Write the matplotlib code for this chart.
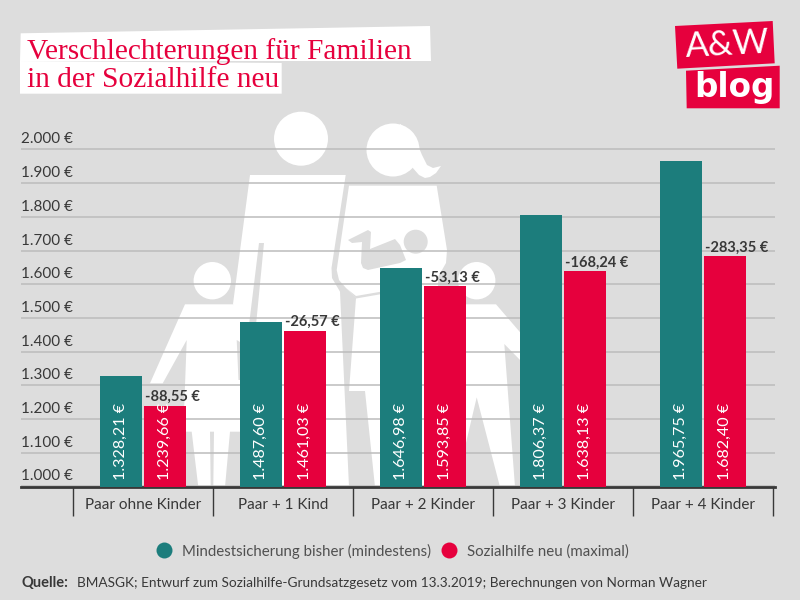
import matplotlib
matplotlib.use('Agg')
import matplotlib.pyplot as plt
from matplotlib.lines import Line2D
from matplotlib.patches import Circle, Polygon

categories = ['Paar ohne Kinder', 'Paar + 1 Kind', 'Paar + 2 Kinder', 'Paar + 3 Kinder', 'Paar + 4 Kinder']
bisher = [1328.21, 1487.60, 1646.98, 1806.37, 1965.75]
neu = [1239.66, 1461.03, 1593.85, 1638.13, 1682.40]
y_ticks = [1000, 1100, 1200, 1300, 1400, 1500, 1600, 1700, 1800, 1900, 2000]
y_labels = ['1.000 €', '1.100 €', '1.200 €', '1.300 €', '1.400 €', '1.500 €',
            '1.600 €', '1.700 €', '1.800 €', '1.900 €', '2.000 €']
series_names = ['Mindestsicherung bisher (mindestens)', 'Sozialhilfe neu (maximal)']

BG = '#dddddd'
TEAL = '#1c7d7c'
RED = '#e6003d'
DARK = '#383838'
FONT = 'Lato'


def euro(value):
    s = f'{value:,.2f}'.replace(',', 'X').replace('.', ',').replace('X', '.')
    return s + ' €'


plt.rcParams['font.family'] = [FONT, 'DejaVu Sans']
fig = plt.figure(figsize=(8, 6), dpi=100, facecolor=BG)

# Hintergrund in Pixelkoordinaten: Familie, Titel, Logo
bg = fig.add_axes([0, 0, 1, 1], zorder=0)
bg.set_xlim(0, 800)
bg.set_ylim(600, 0)
bg.axis('off')

white_shapes = [
    # Vater
    [(250, 175), (345.7, 175), (331.5, 268), (332, 278), (340, 291.7), (349, 487), (245, 487), (240, 340), (233, 304)],
    # Kind links
    [(185, 304.3), (233, 304.3), (250, 320), (250, 431.7), (230, 431.7), (225, 487), (213.3, 487), (214, 431.7),
     (210, 431.7), (210.7, 487), (198.3, 487), (191.7, 431.7), (183.3, 431.7), (186.7, 340), (162.7, 383.3), (150, 383.3)],
    # Mutter
    [(349, 185.7), (436.7, 185.7), (447, 250), (446, 263), (438, 277), (440, 487), (375, 487), (365, 391), (349, 391),
     (356, 298), (346, 288), (339, 280), (336.7, 270)],
    # Pferdeschwanz
    [(400, 124), (410, 131), (417, 143), (422, 155), (427, 165), (433, 168), (441, 166), (436, 173), (430, 177),
     (425, 178), (419, 175), (412, 167), (400, 170)],
    # Kind rechts
    [(440, 304.3), (496, 304.3), (525, 338), (525, 365), (504.3, 344), (515, 487), (500, 487), (476.7, 397.3),
     (462, 460), (460, 487), (440, 487)],
]
gray_shapes = [
    # Luecke am Arm des Vaters
    [(259, 243), (264, 243), (256, 325), (249, 325)],
    [(236.7, 340), (245, 345), (245, 380), (238.5, 380)],
    # Baby
    [(348, 240), (368, 230), (371, 232), (370, 249), (395, 239), (400, 245), (406, 260), (400, 263), (368, 270),
     (363, 268), (361, 263), (362, 242), (352, 243)],
    # Linie zwischen Arm und Rock
    [(346, 288), (356, 296), (382, 291.5), (382, 294), (356, 298.5)],
]
for shape in white_shapes:
    bg.add_patch(Polygon(shape, closed=True, fc='white', ec='none'))
for center, radius in [((301, 138.7), 27), ((393, 150), 26.5), ((212.3, 280.7), 18.7), ((476.7, 280.7), 18.7)]:
    bg.add_patch(Circle(center, radius, fc='white', ec='none'))
for shape in gray_shapes:
    bg.add_patch(Polygon(shape, closed=True, fc=BG, ec='none'))
bg.add_patch(Circle((415.7, 241.7), 12, fc=BG, ec='none'))

# Titel
bg.add_patch(Polygon([(20.7, 33.3), (430, 26), (431, 61), (20, 61)], fc='white', ec='none'))
bg.add_patch(Polygon([(20, 61), (281.7, 63), (281.7, 93.7), (20, 93.7)], fc='white', ec='none'))
bg.text(27, 59, 'Verschlechterungen für Familien', family='Liberation Serif', fontsize=21.2, color=RED, va='baseline')
bg.text(27, 87, 'in der Sozialhilfe neu', family='Liberation Serif', fontsize=21.2, color=RED, va='baseline')

# Logo
bg.add_patch(Polygon([(675, 26), (772.7, 21), (774.7, 63.3), (677.3, 68.7)], fc=RED, ec='none'))
bg.add_patch(Polygon([(686, 70.7), (779.7, 65.7), (779.7, 108.3), (686.7, 108.3)], fc=RED, ec='none'))
bg.text(727, 45, 'A&W', family='Lato', fontsize=25, color='white', ha='center', va='center', rotation=3)
bg.text(734, 87, 'blog', family='DejaVu Sans', fontweight='bold', fontsize=23.5, color='white', ha='center', va='center')

# Diagramm
ax = fig.add_axes([21 / 800, 1 - 486.5 / 600, 754 / 800, 346.5 / 600], zorder=1)
ax.patch.set_visible(False)
ax.set_xlim((21 - 143) / 140, (775 - 143) / 140)
ax.set_ylim(1000, 2028)

bar_w = 42 / 140
offset = 22 / 140
x = list(range(len(categories)))
ax.bar([i - offset for i in x], bisher, bar_w, color=TEAL, zorder=3)
ax.bar([i + offset for i in x], neu, bar_w, color=RED, zorder=3)

for i in x:
    for xpos, val in ((i - offset, bisher[i]), (i + offset, neu[i])):
        ax.annotate(euro(val), xy=(xpos, 1000), xytext=(0, 4.7), textcoords='offset points',
                    rotation=90, ha='center', va='bottom', color='white', fontsize=11.6, zorder=4)
    ax.annotate(euro(round(neu[i] - bisher[i], 2)), xy=(i + offset - bar_w / 2, neu[i]), xytext=(1, 3.5),
                textcoords='offset points', ha='left', va='baseline', color=DARK, fontsize=10.5,
                fontweight='bold', zorder=4)

ax.set_yticks(y_ticks)
ax.grid(axis='y', color='#bcbcbc', lw=1.1, zorder=1)
ax.tick_params(axis='y', length=0, labelleft=False)
for val, label in zip(y_ticks, y_labels):
    ax.annotate(label, xy=(0, val), xycoords=ax.get_yaxis_transform(), xytext=(0, 2.2),
                textcoords='offset points', ha='left', va='bottom', color=DARK, fontsize=11)

ax.set_xticks(x)
ax.set_xticklabels(categories, fontsize=11, color=DARK)
ax.tick_params(axis='x', which='major', length=0, pad=8)
ax.set_xticks([i - 0.5 for i in x] + [x[-1] + 0.5], minor=True)
ax.tick_params(axis='x', which='minor', length=21, width=1, color=DARK)

for side in ('top', 'left', 'right'):
    ax.spines[side].set_visible(False)
ax.spines['bottom'].set_color(DARK)
ax.spines['bottom'].set_linewidth(2)

handles = [Line2D([], [], ls='', marker='o', ms=11.5, mfc=c, mec='none') for c in (TEAL, RED)]
fig.legend(handles, series_names, ncol=2, frameon=False, loc='center', bbox_to_anchor=(389 / 800, 1 - 551 / 600),
           fontsize=10.85, labelcolor='#505050', handletextpad=0.2, columnspacing=0.2)

fig.text(22 / 800, 1 - 583 / 600, 'Quelle:', fontweight='bold', fontsize=10.5, color=DARK, va='center')
fig.text(77 / 800, 1 - 583 / 600, 'BMASGK; Entwurf zum Sozialhilfe-Grundsatzgesetz vom 13.3.2019; Berechnungen von Norman Wagner',
         fontsize=9.8, color=DARK, va='center')

fig.savefig('out.png', dpi=100, facecolor=BG)
